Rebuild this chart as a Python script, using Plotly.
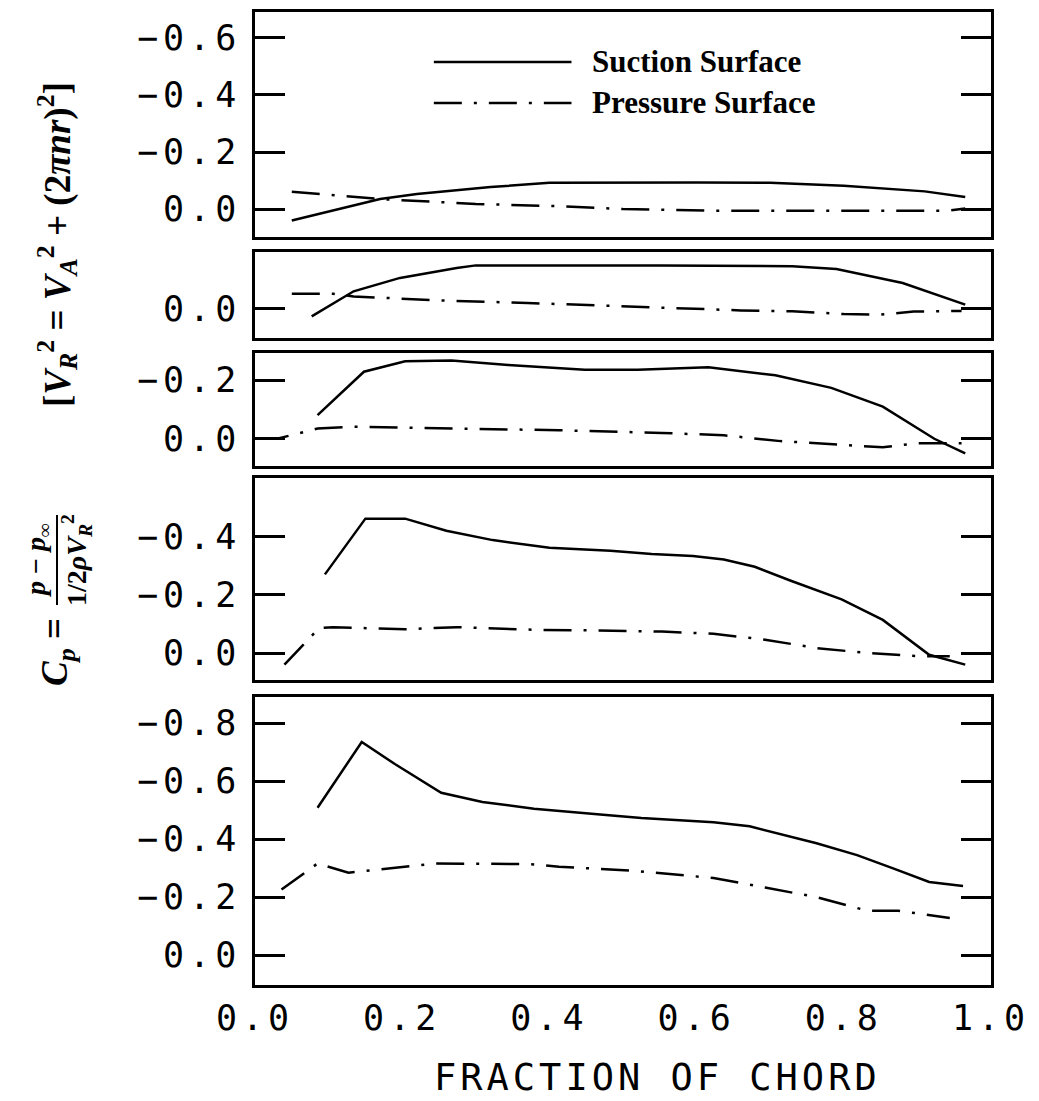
import plotly.graph_objects as go

# ---- chord-wise pressure coefficient, five spanwise stations (top to bottom) ----
# Negative Cp is plotted upward.
suction_x = [
    [0.05, 0.17, 0.22, 0.32, 0.40, 0.50, 0.60, 0.70, 0.80, 0.91, 0.965],
    [0.077, 0.134, 0.197, 0.274, 0.30, 0.55, 0.73, 0.79, 0.88, 0.965],
    [0.085, 0.148, 0.204, 0.267, 0.344, 0.448, 0.52, 0.616, 0.707, 0.783, 0.853, 0.923, 0.965],
    [0.095, 0.15, 0.204, 0.26, 0.323, 0.40, 0.483, 0.539, 0.595, 0.637, 0.679, 0.728, 0.797, 0.853, 0.916, 0.965],
    [0.085, 0.145, 0.19, 0.253, 0.309, 0.379, 0.469, 0.525, 0.623, 0.672, 0.763, 0.818, 0.867, 0.916, 0.962],
]
suction_cp = [
    [0.04, -0.035, -0.053, -0.077, -0.092, -0.093, -0.093, -0.092, -0.082, -0.062, -0.042],
    [0.026, -0.062, -0.109, -0.144, -0.153, -0.153, -0.150, -0.14, -0.091, -0.015],
    [-0.081, -0.229, -0.265, -0.267, -0.252, -0.236, -0.236, -0.244, -0.217, -0.174, -0.110, 0.0, 0.05],
    [-0.271, -0.463, -0.463, -0.421, -0.389, -0.363, -0.352, -0.341, -0.334, -0.322, -0.297, -0.249, -0.185, -0.114, 0.006, 0.04],
    [-0.508, -0.735, -0.659, -0.56, -0.528, -0.505, -0.485, -0.473, -0.458, -0.444, -0.386, -0.345, -0.299, -0.252, -0.238],
]
pressure_x = [
    [0.05, 0.17, 0.30, 0.415, 0.50, 0.625, 0.765, 0.94, 0.965],
    [0.05, 0.106, 0.134, 0.25, 0.37, 0.48, 0.57, 0.66, 0.73, 0.80, 0.85, 0.895, 0.96],
    [0.008, 0.03, 0.085, 0.134, 0.274, 0.413, 0.553, 0.637, 0.714, 0.79, 0.853, 0.90, 0.96],
    [0.04, 0.087, 0.106, 0.204, 0.274, 0.38, 0.455, 0.553, 0.623, 0.693, 0.763, 0.832, 0.902, 0.944],
    [0.036, 0.085, 0.127, 0.246, 0.372, 0.413, 0.518, 0.623, 0.693, 0.763, 0.832, 0.874, 0.944],
]
pressure_cp = [
    [-0.061, -0.035, -0.018, -0.01, 0.0, 0.006, 0.006, 0.006, -0.002],
    [-0.053, -0.053, -0.044, -0.030, -0.021, -0.012, -0.004, 0.005, 0.008, 0.018, 0.020, 0.009, 0.007],
    [0.0, 0.0, -0.035, -0.041, -0.035, -0.029, -0.02, -0.012, 0.008, 0.02, 0.029, 0.015, 0.015],
    [0.04, -0.086, -0.089, -0.082, -0.089, -0.08, -0.078, -0.074, -0.066, -0.046, -0.017, 0.0, 0.011, 0.011],
    [-0.226, -0.316, -0.284, -0.316, -0.314, -0.305, -0.29, -0.266, -0.233, -0.2, -0.153, -0.153, -0.128],
]

# axis ranges (bottom value first, since -Cp points up) and tick labels
y_ranges = [[0.098, -0.691], [0.102, -0.2], [0.093, -0.293], [0.093, -0.603], [0.103, -0.89]]
y_tickvals = [[-0.6, -0.4, -0.2, 0.0], [0.0], [-0.2, 0.0], [-0.4, -0.2, 0.0], [-0.8, -0.6, -0.4, -0.2, 0.0]]
y_ticktext = [["−0.6", "−0.4", "−0.2", "0.0"], ["0.0"], ["−0.2", "0.0"],
              ["−0.4", "−0.2", "0.0"], ["−0.8", "−0.6", "−0.4", "−0.2", "0.0"]]
x_tickvals = [0.0, 0.2, 0.4, 0.6, 0.8, 1.0]
x_ticktext = ["0.0", "0.2", "0.4", "0.6", "0.8", "1.0"]
series_names = ["Suction Surface", "Pressure Surface"]
x_title = "FRACTION OF CHORD"

W, H = 1039, 1101
L, R = 255, 48
# vertical pixel extents of the five panels
panel_px = [(12, 237), (252, 338), (353, 466), (478, 680), (697, 985)]

def py(p):
    return 1 - p / H

def px(p):
    return (p - L) / (W - L - R)

def spaced(s, gap):
    # wide plotter-style lettering
    return '<span style="letter-spacing:%dpx">%s</span>' % (gap, s)

MONO = "DejaVu Sans Mono"
SERIF = "Liberation Serif"
LW = 2.5
DASHDOT = "28px,12px,3px,12px"
TICKFONT = dict(family=MONO, size=35, color="black")

fig = go.Figure()
layout = dict(
    width=W, height=H,
    margin=dict(l=L, r=R, t=0, b=0),
    paper_bgcolor="white", plot_bgcolor="white",
    showlegend=False,
)

for i in range(5):
    n = "" if i == 0 else str(i + 1)
    fig.add_trace(go.Scatter(x=suction_x[i], y=suction_cp[i], mode="lines",
                             line=dict(color="black", width=LW),
                             xaxis="x" + n, yaxis="y" + n, name=series_names[0]))
    fig.add_trace(go.Scatter(x=pressure_x[i], y=pressure_cp[i], mode="lines",
                             line=dict(color="black", width=LW, dash=DASHDOT),
                             xaxis="x" + n, yaxis="y" + n, name=series_names[1]))
    top, bot = panel_px[i]
    layout["xaxis" + n] = dict(
        domain=[0, 1], anchor="y" + n, range=[0, 1],
        showline=True, linecolor="black", linewidth=LW, mirror=True,
        ticks="", showgrid=False, zeroline=False,
        tickvals=x_tickvals, ticktext=[spaced(t, 5) for t in x_ticktext],
        showticklabels=(i == 4),
        tickfont=TICKFONT,
    )
    layout["yaxis" + n] = dict(
        domain=[py(bot), py(top)], anchor="x" + n, range=y_ranges[i],
        showline=True, linecolor="black", linewidth=LW, mirror="allticks",
        ticks="inside", ticklen=30, tickwidth=LW, tickcolor="black",
        showgrid=False, zeroline=False,
        tickvals=y_tickvals[i], ticktext=[spaced(t, 5) for t in y_ticktext[i]],
        tickfont=TICKFONT,
        ticklabelstandoff=4,
    )

# legend drawn inside the top panel
shapes = [
    dict(type="line", xref="x domain", yref="y domain", x0=0.243, x1=0.43, y0=0.778, y1=0.778,
         line=dict(color="black", width=LW)),
    dict(type="line", xref="x domain", yref="y domain", x0=0.243, x1=0.43, y0=0.596, y1=0.596,
         line=dict(color="black", width=LW, dash=DASHDOT)),
]
leg_font = dict(family=SERIF, size=31, color="black", weight="bold")
annotations = [
    dict(text=series_names[0], xref="x domain", yref="y domain", x=0.455, y=0.778,
         xanchor="left", yanchor="middle", showarrow=False, font=leg_font),
    dict(text=series_names[1], xref="x domain", yref="y domain", x=0.455, y=0.596,
         xanchor="left", yanchor="middle", showarrow=False, font=leg_font),
    # x-axis title
    dict(text=spaced(x_title, 4), xref="paper", yref="paper", x=px(657), y=py(1077),
         xanchor="center", yanchor="middle", showarrow=False,
         font=dict(family=MONO, size=37, color="black")),
]

# rotated y-axis label: Cp = (p - p_inf)/(1/2 rho V_R^2)   [V_R^2 = V_A^2 + (2 pi n r)^2]
lab_font = dict(family=SERIF, size=37, color="black", weight="bold")
frac_font = dict(family=SERIF, size=28, color="black", weight="bold")
xc = 57
y_frac = 560
annotations += [
    dict(text="[<i>V</i><sub><i>R</i></sub><sup>2</sup> = <i>V</i><sub><i>A</i></sub><sup>2</sup> + (2<i>πnr</i>)<sup>2</sup>]",
         xref="paper", yref="paper", x=px(xc), y=py(245), textangle=-90,
         xanchor="center", yanchor="middle", showarrow=False, font=lab_font),
    dict(text="<i>C</i><sub><i>p</i></sub> =",
         xref="paper", yref="paper", x=px(xc), y=py(y_frac + 92), textangle=-90,
         xanchor="center", yanchor="middle", showarrow=False, font=lab_font),
    dict(text="<i>p</i> − <i>p</i><sub>∞</sub>",
         xref="paper", yref="paper", x=px(xc - 20), y=py(y_frac), textangle=-90,
         xanchor="center", yanchor="middle", showarrow=False, font=frac_font),
    dict(text="1/2<i>ρV</i><sub><i>R</i></sub><sup>2</sup>",
         xref="paper", yref="paper", x=px(xc + 19), y=py(y_frac), textangle=-90,
         xanchor="center", yanchor="middle", showarrow=False, font=frac_font),
]
shapes.append(dict(type="line", xref="paper", yref="paper", x0=px(xc), x1=px(xc),
                   y0=py(y_frac - 45), y1=py(y_frac + 45), line=dict(color="black", width=2)))

layout["shapes"] = shapes
layout["annotations"] = annotations
fig.update_layout(**layout)
fig.write_html("out.html")
